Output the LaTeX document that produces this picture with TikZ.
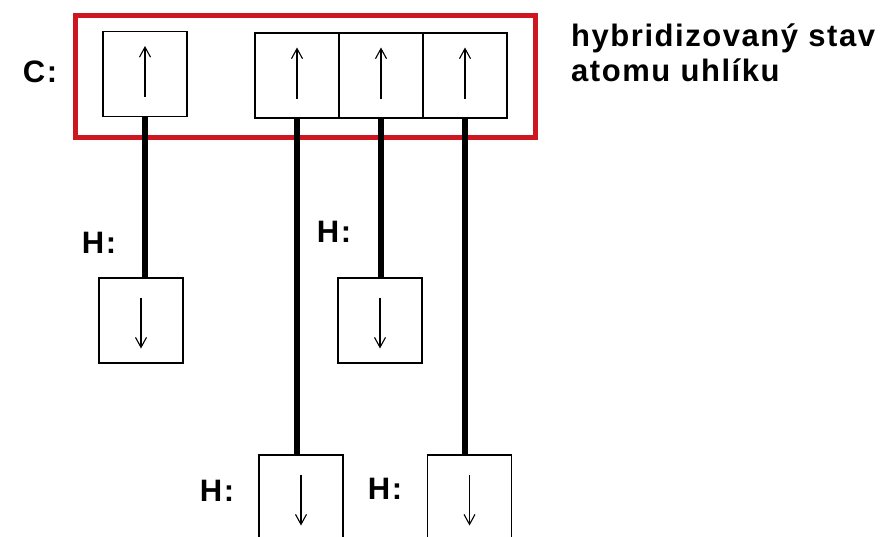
\documentclass[tikz,border=0pt]{standalone}
\usepackage{fontspec}
\setmainfont{Liberation Sans}
\newfontfamily\orbfont[LetterSpace=5]{Liberation Sans}
\usetikzlibrary{arrows.meta}
\definecolor{framered}{RGB}{205,22,32}

\begin{document}
\begin{tikzpicture}[x=1pt,y=-1pt,
  orb/.style={rectangle,draw,line width=1.6pt,minimum width=84pt,minimum height=85pt,inner sep=0pt},
  spin/.style={line width=1.1pt,-{Straight Barb[length=10pt,width=11pt,line width=1.1pt]}},
  bond/.style={line width=5.5pt},
  lbl/.style={font=\orbfont\bfseries\fontsize{31}{35}\selectfont}]
\clip (0,0) rectangle (888,536);
\draw[framered,line width=5pt] (75,15) rectangle (535,137);
% carbon
\node[lbl](clbl) at (40,72){C:};
\node[orb](c1) at (145,74){};\node[orb](c2) at (297,75.5){};\node[orb](c3) at (381,75.5){};\node[orb](c4) at (465,75.5){};
\foreach \n in {c1,c2,c3,c4}\draw[spin]([yshift=-23pt]\n.center)--([yshift=28pt]\n.center);
\node[lbl,anchor=north west,align=left,inner sep=0pt](state) at (571,24){hybridizovaný stav\\atomu uhlíku};
% hydrogens
\node[orb](h1) at (141,320.5){};\node[orb](h2) at (301,497.5){};\node[orb](h3) at (380,320.5){};\node[orb](h4) at (469.5,497.5){};
\foreach \n in {h1,h2,h3,h4}\draw[spin]([yshift=23pt]\n.center)--([yshift=-28pt]\n.center);
\node[lbl](hlbl1) at (99,243){H:};\node[lbl](hlbl2) at (217,491){H:};\node[lbl](hlbl3) at (334,232){H:};\node[lbl](hlbl4) at (385,489){H:};
% bonds
\draw[bond](c1.south)--(c1.south|-h1.north);\draw[bond](c2.south)--(c2.south|-h2.north);
\draw[bond](c3.south)--(c3.south|-h3.north);\draw[bond](c4.south)--(c4.south|-h4.north);
\end{tikzpicture}
\end{document}
